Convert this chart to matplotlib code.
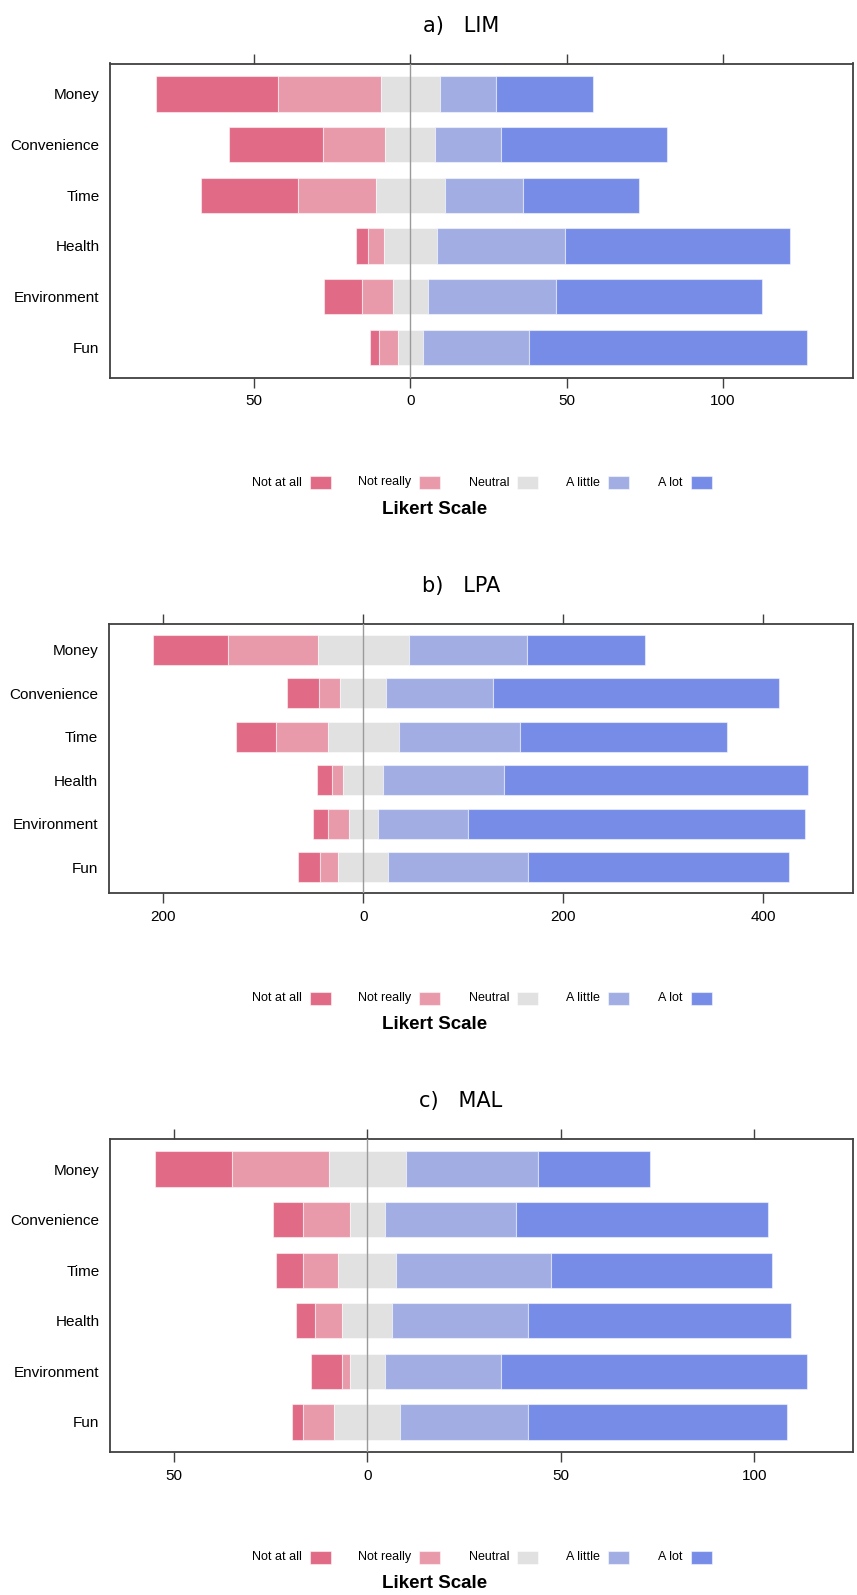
import numpy as np
import matplotlib.pyplot as plt
from matplotlib.patches import Rectangle

plt.rcParams['font.family'] = ['Liberation Sans', 'DejaVu Sans']

items = ['Money', 'Convenience', 'Time', 'Health', 'Environment', 'Fun']
levels = ['Not at all', 'Not really', 'Neutral', 'A little', 'A lot']
colors = ['#E16A86', '#E89AAA', '#E1E1E1', '#A2AEE3', '#778CE7']

# counts per item: not at all, not really, neutral, a little, a lot
lim = [[39, 33, 19, 18, 31],
       [30, 20, 16, 21, 53],
       [31, 25, 22, 25, 37],
       [4, 5, 17, 41, 72],
       [12, 10, 11, 41, 66],
       [3, 6, 8, 34, 89]]

lpa = [[75, 90, 91, 118, 118],
       [32, 21, 46, 107, 286],
       [40, 52, 71, 121, 207],
       [15, 11, 40, 121, 304],
       [15, 21, 29, 90, 337],
       [22, 18, 50, 140, 261]]

mal = [[20, 25, 20, 34, 29],
       [8, 12, 9, 34, 65],
       [7, 9, 15, 40, 57],
       [5, 7, 13, 35, 68],
       [8, 2, 9, 30, 79],
       [3, 8, 17, 33, 67]]

titles = ['a)   LIM', 'b)   LPA', 'c)   MAL']
ticks_list = [[-50, 0, 50, 100], [-200, 0, 200, 400], [-50, 0, 50, 100]]
xlims = [(-96.1, 141.6), (-254.6, 490), (-66.5, 125.5)]

W, H = 857, 1595
fig = plt.figure(figsize=(W / 100, H / 100), dpi=100)

# frame boxes in pixels: left, top, right, bottom
boxes = [(110, 63.5, 853, 377.7), (108.7, 623.7, 853, 893.3), (110, 1138.7, 853, 1452.3)]
frame_col = '#404040'

for data, title, ticks, xl, box in zip([lim, lpa, mal], titles, ticks_list, xlims, boxes):
    l, t, r, b = box
    ax = fig.add_axes([l / W, 1 - b / H, (r - l) / W, (b - t) / H])
    d = np.array(data, dtype=float)
    y = np.arange(len(items))[::-1]
    start = -(d[:, 0] + d[:, 1] + d[:, 2] / 2)
    for k in range(len(levels)):
        ax.barh(y, d[:, k], left=start, height=0.7, color=colors[k],
                edgecolor=(1, 1, 1, 0.5), linewidth=0.8, zorder=2)
        start = start + d[:, k]
    ax.axvline(0, color='#9a9a9a', lw=1, zorder=3)
    ax.set_xlim(*xl)
    ax.set_ylim(-0.6, len(items) - 0.4)
    ax.set_yticks(y)
    ax.set_yticklabels(items, fontsize=11)
    ax.set_xticks(ticks)
    ax.set_xticklabels([str(abs(v)) for v in ticks], fontsize=11)
    ax.tick_params(axis='y', length=0, pad=7.5)
    ax.tick_params(axis='x', top=True, labeltop=False, direction='out',
                   length=7, width=1, color=frame_col, pad=5)
    for s in ax.spines.values():
        s.set_color(frame_col)
        s.set_linewidth(1.3)

    # title above panel
    fig.text(461 / W, 1 - (t - 37.5) / H, title, ha='center', va='center',
             fontsize=15, family='DejaVu Sans')

    # legend (key) under panel
    ly = b + 104.8
    for lab, col, bx in zip(levels, colors, [310, 419, 517, 608, 691]):
        fig.patches.append(Rectangle((bx / W, 1 - (ly + 6.5) / H), 21 / W, 13 / H,
                                     transform=fig.transFigure, facecolor=col,
                                     edgecolor=(1, 1, 1, 0.5), lw=0.8))
        fig.text((bx - 8) / W, 1 - ly / H, lab, ha='right', va='center', fontsize=9)
    fig.text(435 / W, 1 - (b + 131.3) / H, 'Likert Scale', ha='center', va='center',
             fontsize=13.5, fontweight='bold')

fig.savefig('out.png', dpi=100)
